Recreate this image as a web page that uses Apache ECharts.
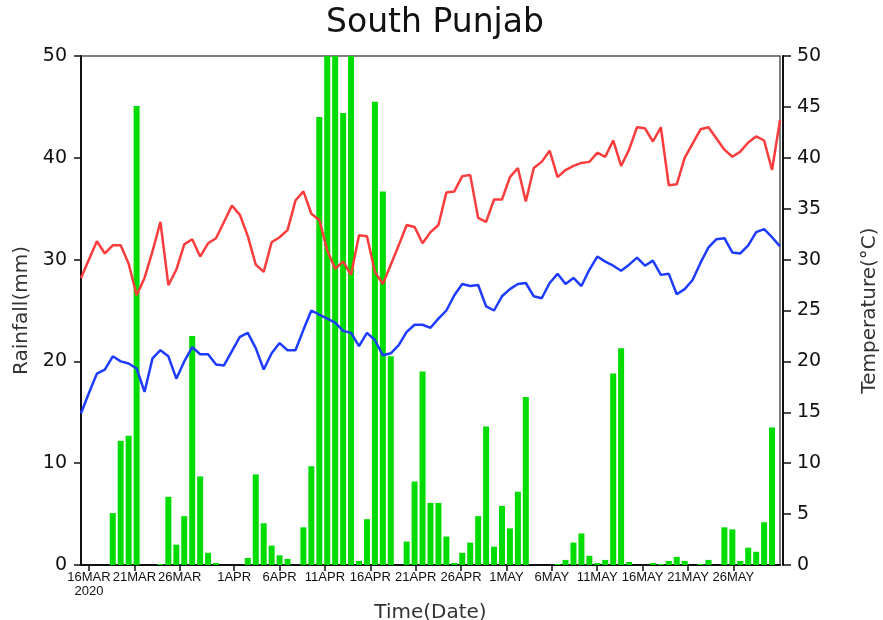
<!DOCTYPE html>
<html>
<head>
<meta charset="utf-8">
<title>South Punjab</title>
<script src="https://cdn.jsdelivr.net/npm/echarts@6/dist/echarts.min.js"></script>
<style>
  html, body { margin: 0; padding: 0; background: #fff; }
  #chart { width: 883px; height: 620px; }
</style>
</head>
<body>
<div id="chart"></div>
<script>
  // date ticks, in days after 16 MAR 2020
  const tickDays = [0, 5, 10, 16, 21, 26, 31, 36, 41, 46, 51, 56, 61, 66, 71]
  const tickLabels = ['16MAR\n2020', '21MAR', '26MAR', '1APR', '6APR', '11APR', '16APR', '21APR',
    '26APR', '1MAY', '6MAY', '11MAY', '16MAY', '21MAY', '26MAY']

  // rainfall (mm), one value per record
  const rainfall = [
    0, 0, 0, 0, 5.1, 12.2, 12.7, 45.1, 0, 0,
    0.1, 6.7, 2.0, 4.8, 22.5, 8.7, 1.2, 0.2, 0, 0,
    0, 0.7, 8.9, 4.1, 1.9, 0.95, 0.6, 0, 3.7, 9.7,
    44.0, 56, 61, 44.4, 53, 0.4, 4.5, 45.5, 36.7, 20.5,
    0, 2.3, 8.2, 19.0, 6.1, 6.1, 2.8, 0.2, 1.2, 2.2,
    4.8, 13.6, 1.8, 5.8, 3.6, 7.2, 16.5, 0, 0, 0,
    0.1, 0.5, 2.2, 3.1, 0.9, 0.2, 0.5, 18.8, 21.3, 0.3,
    0, 0, 0.2, 0.1, 0.4, 0.8, 0.4, 0, 0.1, 0.5,
    0, 3.7, 3.5, 0.4, 1.7, 1.3, 4.2, 13.5, 0
  ]

  // maximum temperature (°C)
  const tmax = [
    28.2, 30.0, 31.8, 30.6, 31.4, 31.4, 29.6, 26.5, 28.2, 30.8,
    33.7, 27.5, 29.0, 31.5, 32.0, 30.3, 31.6, 32.1, 33.7, 35.3,
    34.4, 32.3, 29.5, 28.8, 31.7, 32.2, 32.9, 35.8, 36.7, 34.5,
    33.9, 30.9, 29.1, 29.8, 28.5, 32.4, 32.3, 28.8, 27.6, 29.5,
    31.4, 33.4, 33.2, 31.6, 32.7, 33.4, 36.6, 36.7, 38.2, 38.3,
    34.1, 33.7, 35.9, 35.9, 38.1, 39.0, 35.7, 39.0, 39.6, 40.7,
    38.1, 38.8, 39.2, 39.5, 39.6, 40.5, 40.1, 41.7, 39.2, 40.8,
    43.0, 42.9, 41.6, 43.0, 37.3, 37.4, 40.0, 41.4, 42.8, 43.0,
    41.9, 40.8, 40.1, 40.6, 41.5, 42.1, 41.7, 38.8, 43.7
  ]

  // minimum temperature (°C)
  const tmin = [
    14.9, 16.9, 18.8, 19.2, 20.5, 20.0, 19.8, 19.3, 17.0, 20.3,
    21.1, 20.5, 18.3, 20.0, 21.4, 20.7, 20.7, 19.7, 19.6, 21.0,
    22.4, 22.8, 21.3, 19.2, 20.8, 21.8, 21.1, 21.1, 23.1, 25.0,
    24.6, 24.2, 23.8, 23.0, 22.8, 21.5, 22.8, 22.1, 20.6, 20.8,
    21.6, 22.9, 23.6, 23.6, 23.3, 24.2, 25.0, 26.5, 27.6, 27.4,
    27.5, 25.4, 25.0, 26.4, 27.1, 27.6, 27.7, 26.4, 26.2, 27.7,
    28.6, 27.6, 28.2, 27.4, 29.0, 30.3, 29.8, 29.4, 28.9, 29.5,
    30.2, 29.4, 29.9, 28.5, 28.6, 26.6, 27.1, 28.0, 29.7, 31.2,
    32.0, 32.1, 30.7, 30.6, 31.4, 32.7, 33.0, 32.2, 31.3
  ]

  const font = 'DejaVu Sans'
  const ink = '#111'

  function pairs (values) {
    return values.map(function (v, i) { return [i, v] })
  }

  const chart = echarts.init(document.getElementById('chart'))
  chart.setOption({
    animation: false,
    backgroundColor: '#fff',
    title: {
      text: 'South Punjab',
      left: 430,
      top: 2,
      textAlign: 'center',
      textStyle: { fontFamily: font, fontSize: 33, fontWeight: 'normal', color: ink }
    },
    grid: {
      left: 81,
      right: 103,
      top: 56,
      bottom: 55,
      outerBoundsMode: 'none',
      containLabel: false,
      show: true,
      borderColor: '#555',
      borderWidth: 1.5
    },
    xAxis: [
      {
        // date axis, labels only
        type: 'value',
        min: -0.88,
        max: 76.14,
        position: 'bottom',
        name: 'Time(Date)',
        nameLocation: 'middle',
        nameGap: 32,
        nameTextStyle: { fontFamily: font, fontSize: 20, color: '#333' },
        axisLine: { show: true, onZero: false, lineStyle: { color: ink, width: 2 } },
        axisTick: { show: true, length: 6, customValues: tickDays, lineStyle: { color: ink, width: 1.5 } },
        axisLabel: {
          customValues: tickDays,
          margin: 5,
          fontFamily: 'Liberation Sans',
          fontSize: 13,
          lineHeight: 14,
          color: ink,
          formatter: function (v) {
            const k = tickDays.indexOf(Math.round(v))
            return k >= 0 ? tickLabels[k] : ''
          }
        },
        splitLine: { show: false }
      },
      {
        // record index axis for the series
        type: 'value',
        min: 0,
        max: rainfall.length - 1,
        show: false
      }
    ],
    yAxis: [
      {
        type: 'value',
        min: 0,
        max: 50,
        interval: 10,
        position: 'left',
        name: 'Rainfall(mm)',
        nameLocation: 'middle',
        nameGap: 48,
        nameTextStyle: { fontFamily: font, fontSize: 20, color: '#333' },
        axisLine: { show: true, onZero: false, lineStyle: { color: ink, width: 2 } },
        axisTick: { show: true, length: 7, lineStyle: { color: ink, width: 1.5 } },
        axisLabel: { margin: 14, fontFamily: font, fontSize: 19, color: ink },
        splitLine: { show: false }
      },
      {
        type: 'value',
        min: 0,
        max: 50,
        interval: 5,
        position: 'right',
        offset: 3,
        name: 'Temperature(°C)',
        nameLocation: 'middle',
        nameGap: 77,
        nameTextStyle: { fontFamily: font, fontSize: 20, color: '#333' },
        axisLine: { show: true, onZero: false, lineStyle: { color: ink, width: 2 } },
        axisTick: { show: true, length: 8, lineStyle: { color: ink, width: 1.5 } },
        axisLabel: { margin: 14, fontFamily: font, fontSize: 19, color: ink },
        splitLine: { show: false }
      }
    ],
    series: [
      {
        name: 'Rainfall',
        type: 'bar',
        xAxisIndex: 1,
        yAxisIndex: 0,
        barWidth: 6,
        itemStyle: { color: 'rgb(0,220,0)' },
        data: pairs(rainfall)
      },
      {
        name: 'Tmax',
        type: 'line',
        xAxisIndex: 1,
        yAxisIndex: 1,
        symbol: 'none',
        lineStyle: { color: 'rgb(250,60,60)', width: 2.5 },
        data: pairs(tmax)
      },
      {
        name: 'Tmin',
        type: 'line',
        xAxisIndex: 1,
        yAxisIndex: 1,
        symbol: 'none',
        lineStyle: { color: 'rgb(30,60,255)', width: 2.5 },
        data: pairs(tmin)
      }
    ]
  })
</script>
</body>
</html>
